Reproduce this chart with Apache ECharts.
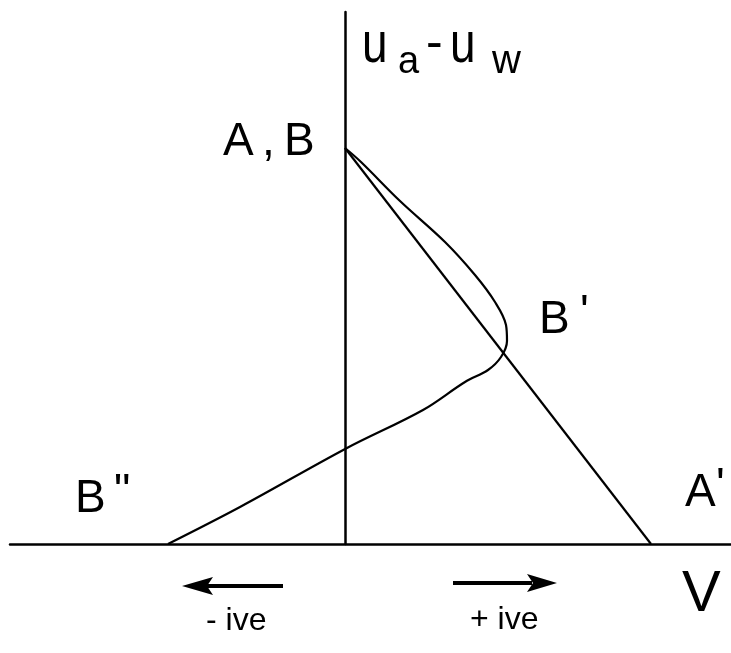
<!DOCTYPE html>
<html>
<head>
<meta charset="utf-8">
<script src="https://cdn.jsdelivr.net/npm/echarts@6/dist/echarts.min.js"></script>
<style>
  html, body { margin: 0; padding: 0; background: #fff; }
  #chart { width: 731px; height: 653px; }
</style>
</head>
<body>
<div id="chart"></div>
<script>
// Net normal stress V (horizontal) against matric suction ua - uw (vertical).
// Straight path A,B -> A'
const pathAV = [0, 306];
const pathAU = [396, 0];

// Curved path A,B -> B' -> B''
const pathBV = [0, 16, 55, 100, 130, 150, 161, 162, 156, 143, 120, 78, 2, -105, -177];
const pathBU = [396, 382, 343, 302, 269, 242, 219, 203, 187, 174, 162, 134, 96, 37, 0];

// Axis extents
const vRange = [-335, 386];
const uRange = [0, 532];

const zip = (xs, ys) => xs.map((x, i) => [x, ys[i]]);

const chart = echarts.init(document.getElementById('chart'), null, { renderer: 'canvas' });

const FONT = 'Liberation Sans, Arial, Helvetica, sans-serif';
const txt = (text, x, y, size, extra) => Object.assign({
  type: 'text',
  x: x, y: y,
  style: {
    text: text,
    font: size + 'px ' + FONT,
    fill: '#000',
    textAlign: 'left',
    textVerticalAlign: 'middle'
  },
  z: 10
}, extra || {});

const arrowLeft = [
  { type: 'line', shape: { x1: 206, y1: 586, x2: 283, y2: 586 }, style: { stroke: '#000', lineWidth: 4 } },
  { type: 'polygon', shape: { points: [[182, 586], [213, 577], [207, 586], [213, 595]] }, style: { fill: '#000' } }
];
const arrowRight = [
  { type: 'line', shape: { x1: 453, y1: 583, x2: 532, y2: 583 }, style: { stroke: '#000', lineWidth: 4 } },
  { type: 'polygon', shape: { points: [[557, 583], [527, 574], [533, 583], [527, 592]] }, style: { fill: '#000' } }
];

const option = {
  animation: false,
  backgroundColor: '#fff',
  grid: { left: 10, right: 0, top: 12, bottom: 109, containLabel: false },
  xAxis: {
    type: 'value', min: vRange[0], max: vRange[1],
    axisLine: { show: true, onZero: true, lineStyle: { color: '#000', width: 2.5 } },
    axisTick: { show: false }, axisLabel: { show: false }, splitLine: { show: false }
  },
  yAxis: {
    type: 'value', min: uRange[0], max: uRange[1],
    axisLine: { show: true, onZero: true, lineStyle: { color: '#000', width: 2.5 } },
    axisTick: { show: false }, axisLabel: { show: false }, splitLine: { show: false }
  },
  series: [
    {
      type: 'line', name: "A'", data: zip(pathAV, pathAU),
      showSymbol: false, symbol: 'none',
      lineStyle: { color: '#000', width: 2.2 }
    },
    {
      type: 'line', name: "B''", data: zip(pathBV, pathBU),
      showSymbol: false, symbol: 'none', smooth: 0.35,
      lineStyle: { color: '#000', width: 2.2 }
    }
  ],
  graphic: [
    // axis title ua - uw
    txt('u', 362, 46, 46, { scaleY: 1.25 }),
    txt('a', 398, 63, 38),
    txt('-', 426, 44, 50),
    txt('u', 450, 46, 46, { scaleY: 1.25 }),
    txt('w', 492, 62, 40),
    // point labels
    txt('A', 223, 142, 46),
    txt(',', 262, 142, 46),
    txt('B', 284, 142, 46),
    txt('B', 539, 320, 46),
    txt("'", 580, 314, 46),
    txt('B', 75, 499, 46),
    txt('"', 114, 493, 46),
    txt('A', 685, 493, 46),
    txt("'", 716, 487, 46),
    // horizontal axis label and direction notes
    txt('V', 682, 595, 58),
    txt('- ive', 206, 621, 32),
    txt('+ ive', 470, 620, 32)
  ].concat(arrowLeft, arrowRight)
};

chart.setOption(option);
</script>
</body>
</html>
